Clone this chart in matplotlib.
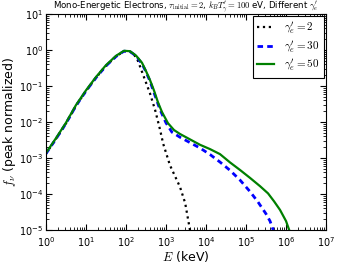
import numpy as np
import matplotlib
matplotlib.use('Agg')
from matplotlib import pyplot as plt

plt.rcParams['mathtext.fontset'] = 'cm'
plt.rcParams['font.family'] = 'DejaVu Sans'

# log10(E / keV), log10(f_nu)
logE_g2 = [0, 0.25, 0.5, 0.75, 1.0, 1.25, 1.5, 1.75, 1.95, 2.1, 2.2, 2.3, 2.4, 2.5,
           2.6, 2.73, 2.85, 2.93, 3.1, 3.35, 3.48, 3.6]
logf_g2 = [-2.88, -2.47, -2.04, -1.55, -1.14, -0.77, -0.44, -0.18, -0.03, -0.04, -0.12, -0.3,
           -0.6, -0.9, -1.2, -1.67, -2.2, -2.6, -3.2, -3.8, -4.25, -5.0]

logE_g30 = [0, 0.25, 0.5, 0.75, 1.0, 1.25, 1.5, 1.75, 1.95, 2.1, 2.25, 2.4, 2.5, 2.6,
            2.7, 2.85, 3.0, 3.15, 3.35, 3.6, 3.85, 4.1, 4.35, 4.6, 4.85, 5.1, 5.3,
            5.5, 5.6, 5.68]
logf_g30 = [-2.88, -2.47, -2.04, -1.55, -1.14, -0.77, -0.44, -0.18, -0.03, -0.04, -0.16, -0.38,
            -0.6, -0.86, -1.18, -1.65, -2.02, -2.28, -2.42, -2.57, -2.72, -2.9, -3.11,
            -3.34, -3.61, -3.93, -4.22, -4.55, -4.75, -5.0]

logE_g50 = [0, 0.25, 0.5, 0.75, 1.0, 1.25, 1.5, 1.75, 1.95, 2.1, 2.25, 2.4, 2.5, 2.6,
            2.7, 2.8, 2.9, 3.05, 3.2, 3.35, 3.6, 3.85, 4.1, 4.35, 4.6, 4.85, 5.1,
            5.35, 5.55, 5.7, 5.85, 6.0, 6.08]
logf_g50 = [-2.86, -2.45, -2.02, -1.53, -1.12, -0.75, -0.42, -0.16, -0.02, -0.03, -0.15, -0.35,
            -0.58, -0.83, -1.12, -1.45, -1.72, -2.03, -2.22, -2.33, -2.48, -2.63, -2.75,
            -2.89, -3.12, -3.33, -3.55, -3.78, -3.98, -4.2, -4.44, -4.75, -5.0]

fig = plt.figure(figsize=(3.4, 2.66), dpi=100)
ax = fig.add_axes([0.135, 0.135, 0.824, 0.812])

ax.plot(10**np.array(logE_g2), 10**np.array(logf_g2), 'k:', lw=1.6, label=r"$\gamma_e'=2$")
ax.plot(10**np.array(logE_g30), 10**np.array(logf_g30), 'b--', lw=2, dashes=(2, 1.5),
        label=r"$\gamma_e'=30$")
ax.plot(10**np.array(logE_g50), 10**np.array(logf_g50), color=(0, 0.5, 0), lw=1.6,
        label=r"$\gamma_e'=50$")

ax.set_xscale('log')
ax.set_yscale('log')
ax.set_xlim(1, 1e7)
ax.set_ylim(1e-5, 10)
ax.tick_params(which='both', direction='in', top=True, right=True, labelsize=7)
ax.tick_params(axis='x', pad=3.5)
ax.tick_params(axis='y', pad=2)
ax.tick_params(which='major', length=4)
ax.tick_params(which='minor', length=2)
ax.set_xticks([10**i for i in range(8)])
ax.set_yticks([10**i for i in range(-5, 2)])

ax.set_xlabel(r'$E$ (keV)', fontsize=9, labelpad=0)
ax.set_ylabel(r'$f_\nu$ (peak normalized)', fontsize=9, labelpad=1)
ax.set_title(r"Mono-Energetic Electrons, $\tau_{\rm initial}=2$, $k_BT_\gamma'=100$ eV, Different $\gamma_e'$",
             fontsize=6.2, pad=2)

leg = ax.legend(loc='upper right', fontsize=8, fancybox=False, framealpha=1,
                handlelength=1.5, handletextpad=0.9, labelspacing=0.25,
                borderaxespad=0.2, borderpad=0.4)
leg.get_frame().set_edgecolor('black')
leg.get_frame().set_linewidth(0.8)

fig.savefig('out.png', dpi=100)
